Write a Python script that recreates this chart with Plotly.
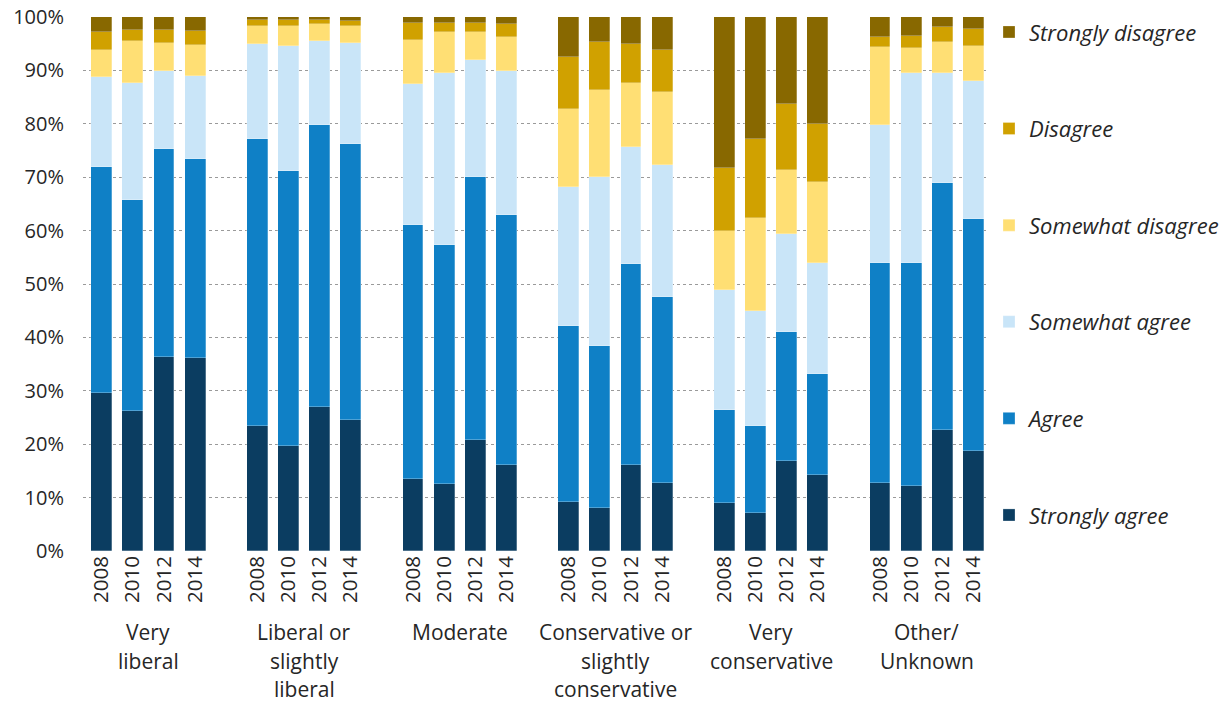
import plotly.graph_objects as go

groups = ["Very liberal", "Liberal or slightly liberal", "Moderate",
          "Conservative or slightly conservative", "Very conservative", "Other/ Unknown"]
group_label_lines = [["Very", "liberal"], ["Liberal or", "slightly", "liberal"], ["Moderate"],
                     ["Conservative or", "slightly", "conservative"], ["Very", "conservative"],
                     ["Other/", "Unknown"]]
years = ["2008", "2010", "2012", "2014"]

# values per bar, ordered group by group, years 2008-2014 within each group (percent)
strongly_agree = [29.5, 26.3, 36.3, 36.1,
                  23.5, 19.7, 27.0, 24.5,
                  13.5, 12.6, 20.8, 16.1,
                  9.2, 8.0, 16.1, 12.7,
                  9.0, 7.1, 16.8, 14.2,
                  12.7, 12.2, 22.7, 18.7]
agree = [42.5, 39.5, 38.9, 37.4,
         53.6, 51.4, 52.8, 51.7,
         47.6, 44.7, 49.2, 46.9,
         33.0, 30.3, 37.6, 34.9,
         17.4, 16.4, 24.3, 19.0,
         41.2, 41.8, 46.2, 43.5]
somewhat_agree = [16.8, 21.8, 14.7, 15.4,
                  17.9, 23.5, 15.8, 18.9,
                  26.3, 32.3, 22.0, 26.8,
                  25.9, 31.7, 22.0, 24.6,
                  22.4, 21.5, 18.3, 20.7,
                  25.9, 35.6, 20.6, 25.8]
somewhat_disagree = [5.0, 7.9, 5.3, 5.8,
                     3.3, 3.7, 3.0, 3.3,
                     8.3, 7.6, 5.1, 6.5,
                     14.7, 16.3, 12.0, 13.8,
                     11.2, 17.3, 11.9, 15.2,
                     14.6, 4.6, 5.9, 6.6]
disagree = [3.4, 2.1, 2.4, 2.7,
            1.1, 1.1, 0.8, 0.9,
            3.1, 1.7, 1.8, 2.3,
            9.8, 9.0, 7.2, 7.9,
            11.8, 14.9, 12.4, 10.8,
            1.8, 2.2, 2.7, 3.2]
strongly_disagree = [2.8, 2.4, 2.4, 2.6,
                     0.6, 0.6, 0.6, 0.7,
                     1.2, 1.1, 1.1, 1.4,
                     7.4, 4.7, 5.1, 6.1,
                     28.2, 22.8, 16.3, 20.1,
                     3.8, 3.6, 1.9, 2.2]

series = [
    ("Strongly agree", strongly_agree, "#0B3D61"),
    ("Agree", agree, "#0F80C6"),
    ("Somewhat agree", somewhat_agree, "#C9E5F8"),
    ("Somewhat disagree", somewhat_disagree, "#FFDF74"),
    ("Disagree", disagree, "#D0A100"),
    ("Strongly disagree", strongly_disagree, "#886800"),
]

# x positions: each group has 4 bars followed by one empty slot
xpos = [g * 5 + i for g in range(len(groups)) for i in range(len(years))]
tick_text = [y for g in range(len(groups)) for y in years]

FONT = "Open Sans"
TXT = "#262626"

fig = go.Figure()
for idx, (name, vals, color) in enumerate(series):
    fig.add_trace(go.Bar(
        x=xpos, y=vals, name=name, legendgroup=name,
        legendrank=100 - idx,
        marker=dict(color=color, line=dict(color="rgba(255,255,255,0.45)", width=0.6)),
        width=0.67,
    ))

for g, lines in enumerate(group_label_lines):
    for k, line in enumerate(lines):
        fig.add_annotation(
            x=g * 5 + 1.5, xref="x", y=0, yref="paper",
            yanchor="top", yshift=-65 - 28.5 * k,
            text=line, showarrow=False,
            font=dict(family=FONT, size=21, color=TXT),
        )

fig.update_layout(
    width=1230, height=702,
    barmode="stack",
    bargap=0,
    paper_bgcolor="white", plot_bgcolor="white",
    margin=dict(l=75, r=249, t=9, b=159, autoexpand=False),
    font=dict(family=FONT, size=18, color=TXT),
    legend=dict(
        x=1.0, xanchor="left", y=1.011, yanchor="top",
        traceorder="grouped", tracegroupgap=65,
        font=dict(family=FONT, size=22, color=TXT, style="italic"),
        itemwidth=30, maxheight=690,
    ),
    xaxis=dict(
        range=[-0.6, 28.5],
        tickvals=xpos, ticktext=tick_text, tickangle=-90,
        tickfont=dict(family=FONT, size=20.5, color=TXT),
        showgrid=False, zeroline=False, showline=False, ticks="",
    ),
    yaxis=dict(
        range=[0, 100], dtick=10, ticksuffix="%",
        tickfont=dict(family=FONT, size=20, color=TXT),
        showgrid=True, gridcolor="#9A9A9A", griddash="dot", gridwidth=1.3,
        zeroline=False, showline=False, ticks="", ticklabelstandoff=18,
        ticklabeloverflow="allow",
    ),
)

fig.write_html("out.html")
